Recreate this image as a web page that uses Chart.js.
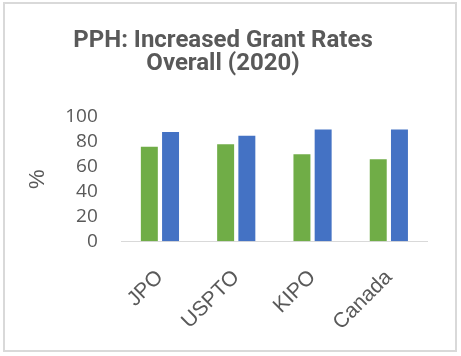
<!DOCTYPE html>
<html>
<head>
<meta charset="utf-8">
<script src="https://cdn.jsdelivr.net/npm/chart.js@4/dist/chart.umd.min.js"></script>
<style>
  html, body { margin: 0; padding: 0; background: #ffffff; }
  #wrap { position: relative; width: 461px; height: 356px; }
  #frame { position: absolute; left: 3px; top: 2px; width: 454px; height: 350px; box-sizing: border-box; border: 2px solid #d9d9d9; pointer-events: none; }
</style>
</head>
<body>
<div id="wrap">
  <canvas id="c"></canvas>
  <div id="frame"></div>
</div>
<script>
const categories = ["JPO", "USPTO", "KIPO", "Canada"];
const seriesNames = ["Non-PPH", "PPH"];
const nonPphValues = [76, 78, 70, 66];
const pphValues = [88, 85, 90, 90];
const yTicks = [0, 20, 40, 60, 80, 100];
const titleLines = ["PPH: Increased Grant Rates", "Overall (2020)"];
const yAxisTitle = "%";

const textColor = "#595959";

new Chart(document.getElementById("c"), {
  type: "bar",
  data: {
    labels: categories,
    datasets: [
      { label: seriesNames[0], data: nonPphValues, backgroundColor: "#70ad47", categoryPercentage: 0.556, barPercentage: 0.8 },
      { label: seriesNames[1], data: pphValues, backgroundColor: "#4472c4", categoryPercentage: 0.556, barPercentage: 0.8 }
    ]
  },
  options: {
    responsive: true,
    maintainAspectRatio: false,
    animation: false,
    layout: { autoPadding: false, padding: { left: 19, right: 34, top: 0, bottom: -3 } },
    plugins: {
      legend: { display: false },
      tooltip: { enabled: false },
      title: {
        display: true,
        text: titleLines,
        color: textColor,
        font: { family: "Roboto", size: 24, weight: "bold", lineHeight: 0.98 },
        padding: { top: 29, bottom: 41 }
      }
    },
    scales: {
      x: {
        grid: { display: false, drawTicks: false },
        border: { display: true, color: "#d9d9d9", width: 1 },
        ticks: {
          color: textColor,
          font: { family: "Liberation Sans", size: 21 },
          minRotation: 45,
          maxRotation: 45,
          padding: 24
        }
      },
      y: {
        min: 0,
        max: 100,
        afterBuildTicks: (axis) => { axis.ticks = yTicks.map(v => ({ value: v })); },
        grid: { display: false, drawTicks: false },
        border: { display: false },
        ticks: {
          color: textColor,
          font: { family: "Open Sans", size: 19 },
          padding: 24,
          autoSkip: false
        },
        title: {
          display: true,
          text: yAxisTitle,
          color: textColor,
          font: { family: "Liberation Sans", size: 22, lineHeight: 1.1 },
          padding: { top: 7, bottom: -9 }
        }
      }
    }
  }
});
</script>
</body>
</html>
